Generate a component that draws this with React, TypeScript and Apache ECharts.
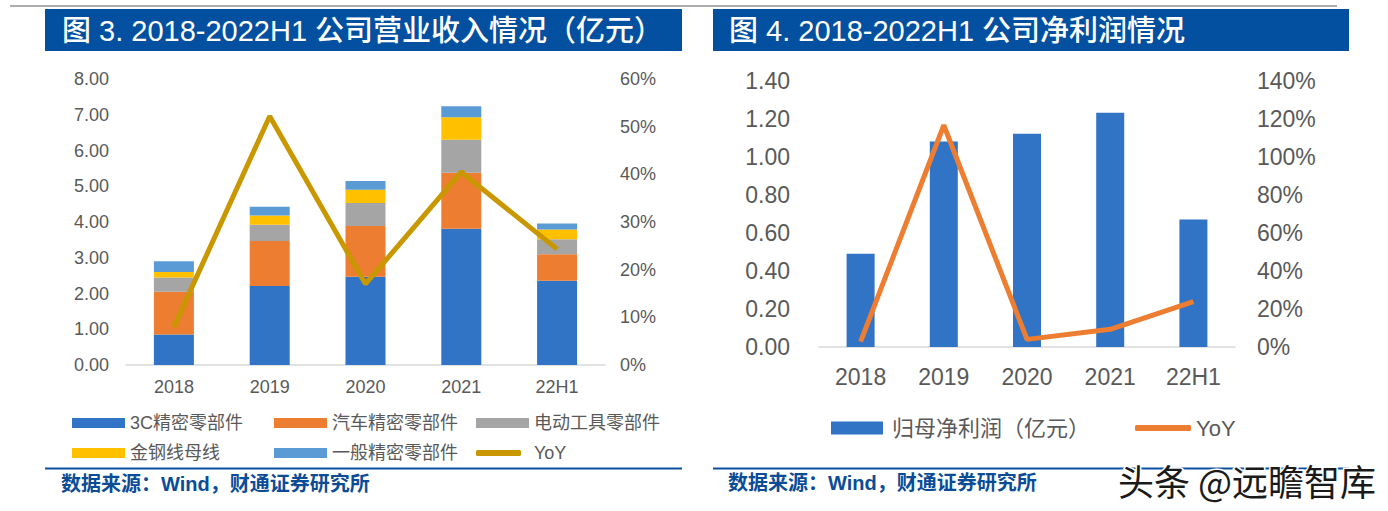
import React, { useEffect, useRef } from "react";
import * as echarts from "echarts";

// ---------- data ----------
const categories = ["2018", "2019", "2020", "2021", "22H1"];
// Figure 3: revenue by segment (亿元)
const rev3C = [0.85, 2.21, 2.47, 3.81, 2.36];
const revAuto = [1.2, 1.26, 1.42, 1.57, 0.74];
const revTool = [0.4, 0.45, 0.64, 0.92, 0.42];
const revWire = [0.15, 0.26, 0.37, 0.63, 0.27];
const revGeneral = [0.3, 0.25, 0.25, 0.31, 0.17];
const revYoY = [8.0, 52.2, 17.0, 40.5, 24.3]; // %
const revTicks = { min: 0, max: 8, interval: 1 };
const revPctTicks = { min: 0, max: 60, interval: 10 };
// Figure 4: net profit
const netProfit = [0.49, 1.08, 1.12, 1.23, 0.67];
const netYoY = [2.8, 116.5, 4.0, 9.3, 23.8]; // %
const netTicks = { min: 0, max: 1.4, interval: 0.2 };
const netPctTicks = { min: 0, max: 140, interval: 20 };

const seriesNamesLeft = ["3C精密零部件", "汽车精密零部件", "电动工具零部件", "金钢线母线", "一般精密零部件", "YoY"];
const seriesNameRightBar = "归母净利润（亿元）";
const titleLeft = "图 3. 2018-2022H1 公司营业收入情况（亿元）";
const titleRight = "图 4. 2018-2022H1 公司净利润情况";
const sourceText = "数据来源：Wind，财通证券研究所";
const watermark = "头条 @远瞻智库";

// ---------- styles ----------
const C_BLUE = "#3173C5";
const C_ORANGE = "#ED7D31";
const C_GRAY = "#A5A5A5";
const C_YELLOW = "#FFC000";
const C_LBLUE = "#5B9BD5";
const C_GOLD = "#C99700";
const C_TEXT = "#595959";
const C_NAVY = "#02509F";
const FONT = "'Liberation Sans', Arial, 'Noto Sans CJK SC', sans-serif";

function legendItem(name: string, left: number, cy: number, opts: any) {
  const fs = opts.fontSize;
  return {
    data: [name],
    left,
    top: cy - Math.max(fs, opts.h) / 2,
    orient: "horizontal",
    padding: 0,
    itemGap: 0,
    itemWidth: opts.w,
    itemHeight: opts.h,
    icon: opts.icon || "rect",
    selectedMode: false,
    formatter: opts.label ? () => opts.label : undefined,
    textStyle: {
      color: C_TEXT,
      fontSize: fs,
      fontFamily: FONT,
      padding: opts.pad ? [0, 0, 0, opts.pad] : 0,
    },
  };
}

export default function App() {
  const ref = useRef<HTMLDivElement>(null);
  useEffect(() => {
    if (!ref.current) return;
    const chart = echarts.init(ref.current, undefined, { renderer: "svg" });
    const axisLabelBase = { color: C_TEXT, fontFamily: FONT };
    const option: any = {
      animation: false,
      backgroundColor: "#ffffff",
      grid: [
        { left: 126, right: 1388 - 605, top: 79, bottom: 511 - 365, containLabel: false },
        { left: 819, right: 1388 - 1235, top: 80.5, bottom: 511 - 347, containLabel: false },
      ],
      xAxis: [
        {
          type: "category",
          gridIndex: 0,
          data: categories,
          axisLine: { lineStyle: { color: "#D9D9D9", width: 1.5 } },
          axisTick: { show: false },
          axisLabel: { ...axisLabelBase, fontSize: 18, margin: 13 },
        },
        {
          type: "category",
          gridIndex: 1,
          data: categories,
          axisLine: { lineStyle: { color: "#D9D9D9", width: 1.5 } },
          axisTick: { show: false },
          axisLabel: { ...axisLabelBase, fontSize: 23, margin: 18 },
        },
      ],
      yAxis: [
        {
          type: "value",
          gridIndex: 0,
          ...revTicks,
          axisLine: { show: false },
          axisTick: { show: false },
          splitLine: { show: false },
          axisLabel: { ...axisLabelBase, fontSize: 18, margin: 17, formatter: (v: number) => v.toFixed(2) },
        },
        {
          type: "value",
          gridIndex: 0,
          position: "right",
          ...revPctTicks,
          axisLine: { show: false },
          axisTick: { show: false },
          splitLine: { show: false },
          axisLabel: { ...axisLabelBase, fontSize: 18, margin: 15, formatter: (v: number) => Math.round(v) + "%" },
        },
        {
          type: "value",
          gridIndex: 1,
          ...netTicks,
          axisLine: { show: false },
          axisTick: { show: false },
          splitLine: { show: false },
          axisLabel: { ...axisLabelBase, fontSize: 23, margin: 29, formatter: (v: number) => v.toFixed(2) },
        },
        {
          type: "value",
          gridIndex: 1,
          position: "right",
          ...netPctTicks,
          axisLine: { show: false },
          axisTick: { show: false },
          splitLine: { show: false },
          axisLabel: { ...axisLabelBase, fontSize: 23, margin: 22, formatter: (v: number) => Math.round(v) + "%" },
        },
      ],
      legend: [
        legendItem(seriesNamesLeft[0], 72, 423, { fontSize: 18, w: 53, h: 10 }),
        legendItem(seriesNamesLeft[1], 274, 423, { fontSize: 18, w: 53, h: 10 }),
        legendItem(seriesNamesLeft[2], 476, 423, { fontSize: 18, w: 53, h: 10 }),
        legendItem(seriesNamesLeft[3], 72, 453, { fontSize: 18, w: 53, h: 10 }),
        legendItem(seriesNamesLeft[4], 274, 453, { fontSize: 18, w: 53, h: 10 }),
        legendItem(seriesNamesLeft[5], 476, 453, { fontSize: 18, w: 45, h: 6, icon: "roundRect", pad: 8 }),
        legendItem(seriesNameRightBar, 831, 428, { fontSize: 22, w: 52, h: 13, pad: 4 }),
        legendItem("YoY_r", 1135, 428, { fontSize: 22, w: 56, h: 6, icon: "roundRect", label: "YoY" }),
      ],
      series: [
        { name: seriesNamesLeft[0], type: "bar", stack: "rev", xAxisIndex: 0, yAxisIndex: 0, barWidth: 40, data: rev3C, itemStyle: { color: C_BLUE } },
        { name: seriesNamesLeft[1], type: "bar", stack: "rev", xAxisIndex: 0, yAxisIndex: 0, barWidth: 40, data: revAuto, itemStyle: { color: C_ORANGE } },
        { name: seriesNamesLeft[2], type: "bar", stack: "rev", xAxisIndex: 0, yAxisIndex: 0, barWidth: 40, data: revTool, itemStyle: { color: C_GRAY } },
        { name: seriesNamesLeft[3], type: "bar", stack: "rev", xAxisIndex: 0, yAxisIndex: 0, barWidth: 40, data: revWire, itemStyle: { color: C_YELLOW } },
        { name: seriesNamesLeft[4], type: "bar", stack: "rev", xAxisIndex: 0, yAxisIndex: 0, barWidth: 40, data: revGeneral, itemStyle: { color: C_LBLUE } },
        {
          name: seriesNamesLeft[5], type: "line", xAxisIndex: 0, yAxisIndex: 1, data: revYoY,
          symbol: "none", itemStyle: { color: C_GOLD }, lineStyle: { color: C_GOLD, width: 5 }, z: 5,
        },
        { name: seriesNameRightBar, type: "bar", xAxisIndex: 1, yAxisIndex: 2, barWidth: 28, data: netProfit, itemStyle: { color: C_BLUE } },
        {
          name: "YoY_r", type: "line", xAxisIndex: 1, yAxisIndex: 3, data: netYoY,
          symbol: "none", itemStyle: { color: C_ORANGE }, lineStyle: { color: C_ORANGE, width: 5 }, z: 5,
        },
      ],
      graphic: [
        { type: "line", shape: { x1: 10, y1: 6, x2: 1337, y2: 6 }, style: { stroke: "#ADADAD", lineWidth: 2 } },
        { type: "rect", shape: { x: 45, y: 9, width: 637, height: 42 }, style: { fill: C_NAVY } },
        { type: "rect", shape: { x: 713, y: 9, width: 636, height: 42 }, style: { fill: C_NAVY } },
        {
          type: "text", x: 62, y: 31,
          style: { text: titleLeft, fill: "#ffffff", fontSize: 29, fontFamily: FONT, fontWeight: 500, verticalAlign: "middle", align: "left" },
        },
        {
          type: "text", x: 729, y: 31,
          style: { text: titleRight, fill: "#ffffff", fontSize: 29, fontFamily: FONT, fontWeight: 500, verticalAlign: "middle", align: "left" },
        },
        { type: "line", shape: { x1: 45, y1: 468.5, x2: 682, y2: 468.5 }, style: { stroke: "#0B4FA0", lineWidth: 2 } },
        { type: "line", shape: { x1: 713, y1: 468.5, x2: 1349, y2: 468.5 }, style: { stroke: "#0B4FA0", lineWidth: 2 } },
        {
          type: "text", x: 61, y: 484,
          style: { text: sourceText, fill: "#0B4C96", fontSize: 20, fontFamily: FONT, fontWeight: "bold", verticalAlign: "middle", align: "left" },
        },
        {
          type: "text", x: 728, y: 483,
          style: { text: sourceText, fill: "#0B4C96", fontSize: 20, fontFamily: FONT, fontWeight: "bold", verticalAlign: "middle", align: "left" },
        },
        {
          type: "text", x: 1118, y: 480, z: 100,
          style: {
            text: watermark, fill: "#1a1a1a", fontSize: 36, fontFamily: "'Noto Sans CJK SC', sans-serif",
            verticalAlign: "middle", align: "left", stroke: "#ffffff", lineWidth: 3,
          },
        },
      ],
    };
    chart.setOption(option);
    return () => chart.dispose();
  }, []);
  return (
    <div
      ref={ref}
      style={{ position: "absolute", left: 0, top: 0, width: 1388, height: 511, background: "#fff" }}
    />
  );
}
